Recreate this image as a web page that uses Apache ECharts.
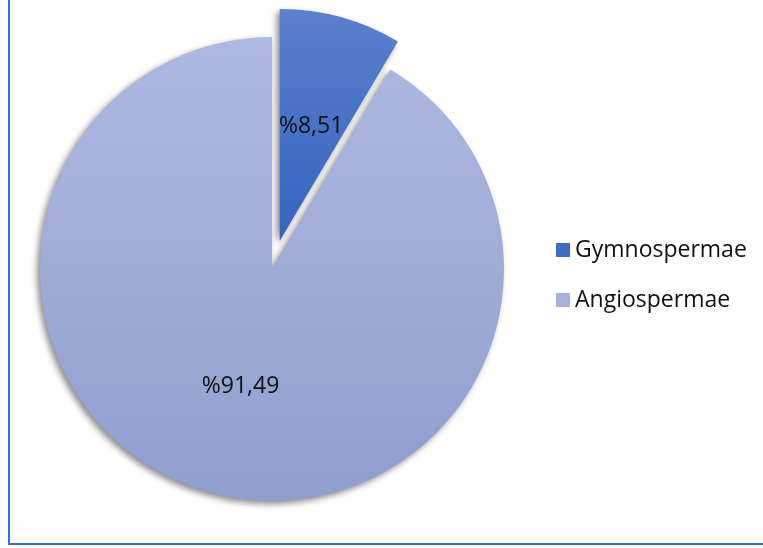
<!DOCTYPE html>
<html>
<head>
<meta charset="utf-8">
<script src="https://cdn.jsdelivr.net/npm/echarts@6/dist/echarts.min.js"></script>
<style>
html,body{margin:0;padding:0;background:#fff;}
#c{width:763px;height:548px;}
</style>
</head>
<body>
<div id="c"></div>
<script>
var categories = ['Gymnospermae', 'Angiospermae'];
var percents = [8.51, 91.49];

var colors = [
  {type:'linear',x:0,y:0,x2:0,y2:1,colorStops:[{offset:0,color:'#5b80cc'},{offset:1,color:'#3463c0'}]},
  {type:'linear',x:0,y:0,x2:0,y2:1,colorStops:[{offset:0,color:'#adb9e1'},{offset:1,color:'#8e9ecd'}]}
];
var legendColors = ['#3f6cc5', '#a5b3dc'];
var labelOffsets = [[0, 7], [0, 3]];

var chart = echarts.init(document.getElementById('c'), null, {renderer:'canvas'});
var data = categories.map(function(n, i){
  return {
    name: n,
    value: percents[i],
    selected: i === 0,
    itemStyle: {color: colors[i]},
    select: {itemStyle: {color: colors[i]}},
    label: {offset: labelOffsets[i]}
  };
});
chart.setOption({
  animation: false,
  color: legendColors,
  graphic: [{
    type: 'rect', z: -10, silent: true,
    shape: {x: 9, y: -10, width: 820, height: 554},
    style: {fill: 'none', stroke: '#2f74c8', lineWidth: 2}
  }],
  legend: {
    orient: 'vertical',
    left: 551,
    top: 232,
    itemWidth: 14,
    itemHeight: 14,
    itemGap: 24,
    icon: 'rect',
    selectedMode: false,
    textStyle: {fontFamily: 'Open Sans', fontSize: 23, color: '#111', lineHeight: 26, padding: [0,0,0,0]},
    data: categories.map(function(n, i){ return {name: n, itemStyle: {color: legendColors[i]}}; })
  },
  series: [{
    type: 'pie',
    center: [272, 269],
    radius: [0, 232],
    startAngle: 90,
    clockwise: true,
    selectedMode: 'single',
    selectedOffset: 29,
    avoidLabelOverlap: false,
    emphasis: {disabled: true},
    itemStyle: {
      shadowBlur: 6,
      shadowOffsetX: -3,
      shadowOffsetY: 3,
      shadowColor: 'rgba(0,0,0,0.45)'
    },
    label: {
      show: true,
      position: 'inside',
      fontFamily: 'Open Sans',
      fontSize: 23,
      color: '#111',
      formatter: function(p){ return '%' + p.value.toFixed(2).replace('.', ','); }
    },
    labelLine: {show: false},
    data: data
  }]
});
</script>
</body>
</html>
